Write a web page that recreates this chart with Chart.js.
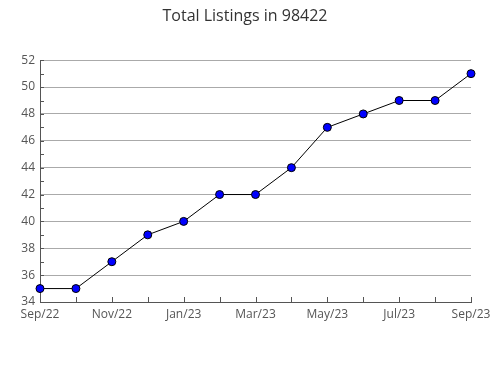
<!DOCTYPE html>
<html>
<head>
<meta charset="utf-8">
<script src="https://cdn.jsdelivr.net/npm/chart.js@4/dist/chart.umd.min.js"></script>
<style>
html,body{margin:0;padding:0;background:#fff;}
#wrap{width:490px;height:380px;}
</style>
</head>
<body>
<div id="wrap"><canvas id="c" width="490" height="380"></canvas></div>
<script>
const categories = ["Sep/22","Oct/22","Nov/22","Dec/22","Jan/23","Feb/23","Mar/23","Apr/23","May/23","Jun/23","Jul/23","Aug/23","Sep/23"];
const listings = [35,35,37,39,40,42,42,44,47,48,49,49,51];
const yMin = 34, yMax = 52, yLabelStep = 2;
const titleText = "Total Listings in 98422";

const innerTicks = {
  id: 'innerTicks',
  beforeDatasetsDraw(chart) {
    const ctx = chart.ctx;
    const xs = chart.scales.x, ys = chart.scales.y;
    ctx.save();
    ctx.strokeStyle = '#555';
    ctx.lineWidth = 1;
    ctx.beginPath();
    for (let v = yMin; v <= yMax; v++) {
      const y = Math.round(ys.getPixelForValue(v)) + 0.5;
      ctx.moveTo(xs.left, y);
      ctx.lineTo(xs.left + 4, y);
    }
    for (let i = 0; i < categories.length; i++) {
      const x = Math.round(xs.getPixelForValue(i)) + 0.5;
      ctx.moveTo(x, ys.bottom);
      ctx.lineTo(x, ys.bottom - 5);
    }
    ctx.stroke();
    ctx.restore();
  }
};

new Chart(document.getElementById('c'), {
  type: 'line',
  data: {
    labels: categories,
    datasets: [{
      data: listings,
      borderColor: '#000',
      borderWidth: 1,
      tension: 0,
      pointRadius: 4,
      pointHoverRadius: 4,
      pointBackgroundColor: '#0000ff',
      pointBorderColor: '#000',
      pointBorderWidth: 1
    }]
  },
  options: {
    responsive: false,
    animation: false,
    layout: { padding: { left: 0, right: 0, top: 0, bottom: 0 } },
    plugins: {
      legend: { display: false },
      tooltip: { enabled: false },
      title: {
        display: true,
        text: titleText,
        color: '#333',
        font: { family: 'Open Sans', size: 16, weight: 'normal' },
        padding: { top: 7, bottom: 34 }
      }
    },
    scales: {
      x: {
        offset: false,
        afterFit(s) { s.height = 78; s.paddingRight = 19; s.paddingLeft = 0; },
        grid: { display: false, drawTicks: false },
        border: { display: true, color: '#555', width: 1 },
        ticks: {
          autoSkip: false,
          maxRotation: 0,
          padding: 5,
          color: '#555',
          font: { family: 'Open Sans', size: 12 },
          callback(v, i) { return i % 2 === 0 ? categories[i] : ''; }
        }
      },
      y: {
        min: yMin,
        max: yMax,
        afterFit(s) { s.width = 40; },
        grid: {
          drawTicks: false,
          color(ctx) { return (ctx.tick && ctx.tick.value % yLabelStep === 0) ? '#aaa' : 'rgba(0,0,0,0)'; }
        },
        border: { display: true, color: '#555', width: 1 },
        ticks: {
          stepSize: 1,
          padding: 5,
          color: '#555',
          font: { family: 'Open Sans', size: 12 },
          callback(v) { return v % yLabelStep === 0 ? v : ''; }
        }
      }
    }
  },
  plugins: [innerTicks]
});
</script>
</body>
</html>
